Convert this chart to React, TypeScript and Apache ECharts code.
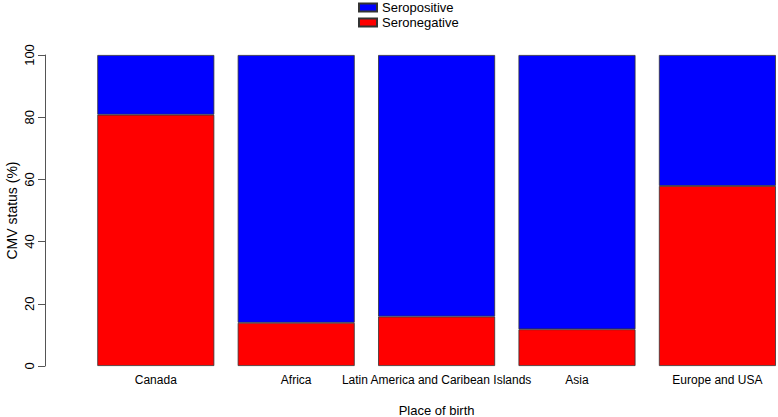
import React, { useEffect, useRef } from "react";
import * as echarts from "echarts";

const categories = ["Canada", "Africa", "Latin America and Caribean Islands", "Asia", "Europe and USA"];
const seronegative = [80.8, 13.9, 15.9, 11.8, 57.9];
const seropositive = seronegative.map((v) => +(100 - v).toFixed(1));
const yTicks = { min: 0, max: 100, interval: 20 };

const FONT = "'Liberation Sans', Arial, sans-serif";

export default function App() {
  const ref = useRef<HTMLDivElement>(null);
  useEffect(() => {
    document.body.style.margin = "0";
    const chart = echarts.init(ref.current!, null, { renderer: "svg" });
    chart.setOption({
      animation: false,
      textStyle: { fontFamily: FONT, color: "#000" },
      legend: {
        orient: "vertical",
        left: 353,
        top: -4,
        itemWidth: 18,
        itemHeight: 8,
        itemGap: 2,
        icon: "rect",
        data: ["Seropositive", "Seronegative"],
        textStyle: { fontFamily: FONT, fontSize: 13, color: "#000" },
      },
      grid: { left: 85.6, width: 702, top: 55, height: 311, containLabel: false, outerBoundsMode: "none" },
      xAxis: {
        type: "category",
        data: categories,
        axisLine: { show: false },
        axisTick: { show: false },
        axisLabel: { fontFamily: FONT, fontSize: 12, color: "#000", margin: 8, interval: 0 },
        name: "Place of birth",
        nameLocation: "middle",
        nameGap: 38,
        nameMoveOverlap: false,
        nameTextStyle: { fontFamily: FONT, fontSize: 13, color: "#000" },
      },
      yAxis: {
        type: "value",
        min: yTicks.min,
        max: yTicks.max,
        interval: yTicks.interval,
        offset: 40.6,
        axisLine: { show: true, lineStyle: { color: "#555", width: 1 } },
        axisTick: { show: true, length: 7, lineStyle: { color: "#555" } },
        splitLine: { show: false },
        axisLabel: { fontFamily: FONT, fontSize: 13, color: "#000", rotate: 90, margin: 9 },
        name: "CMV status (%)",
        nameLocation: "middle",
        nameRotate: 90,
        nameGap: 26,
        nameMoveOverlap: false,
        nameTextStyle: { fontFamily: FONT, fontSize: 14, color: "#000" },
      },
      series: [
        {
          name: "Seronegative",
          type: "bar",
          stack: "s",
          data: seronegative,
          barWidth: 117,
          itemStyle: { color: "#FF0000", borderColor: "#333", borderWidth: 0.8 },
        },
        {
          name: "Seropositive",
          type: "bar",
          stack: "s",
          data: seropositive,
          barWidth: 117,
          itemStyle: { color: "#0000FF", borderColor: "#333", borderWidth: 0.8 },
        },
      ],
    });
    return () => chart.dispose();
  }, []);
  return <div ref={ref} style={{ width: 778, height: 417, position: "absolute", left: 0, top: 0 }} />;
}
